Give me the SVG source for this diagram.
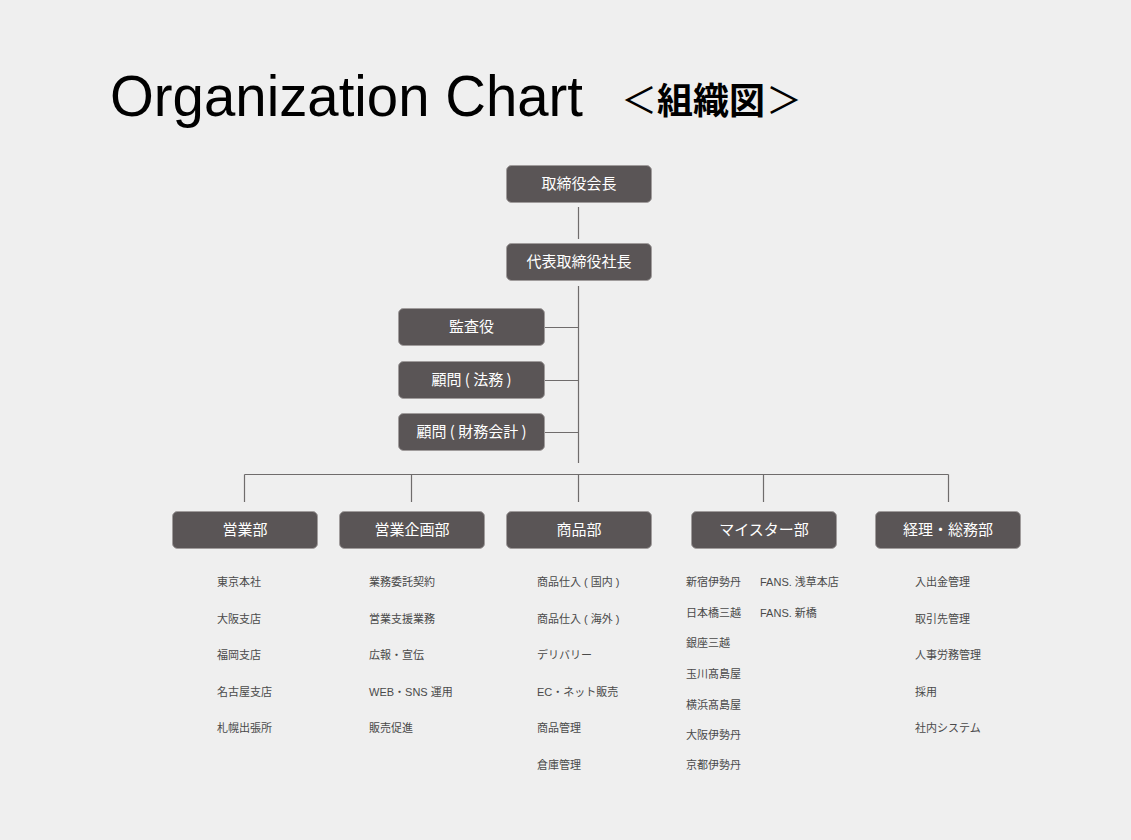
<svg xmlns="http://www.w3.org/2000/svg" width="1131" height="840" viewBox="0 0 1131 840">
<style>
.bg{fill:#efefef}
.box{fill:#5a5556;stroke:#a09c9c;stroke-width:1}
.bt{fill:#ffffff;font-family:"Noto Sans CJK JP","Liberation Sans",sans-serif;font-size:15px;text-anchor:middle}
.ln{stroke:#6f6c6c;stroke-width:1.2;fill:none}
.li{fill:#4a4a4a;font-family:"Liberation Sans","Noto Sans CJK JP",sans-serif;font-size:11px}
.tj{font-family:"Noto Sans CJK JP",sans-serif;font-size:36px;fill:#000}
</style>
<rect class="bg" x="0" y="0" width="1131" height="840"/>
<g id="title">
<text x="110" y="116" font-family="'Liberation Sans',Arial,sans-serif" font-size="57" textLength="473" lengthAdjust="spacingAndGlyphs" fill="#000">Organization Chart</text>
<text class="tj" x="621" y="114">＜</text>
<text class="tj" x="657" y="114" font-weight="bold">組織図</text>
<text class="tj" x="766" y="114">＞</text>
</g>
<g id="connectors">
<line class="ln" x1="578.5" y1="207" x2="578.5" y2="239"/>
<line class="ln" x1="578.5" y1="286" x2="578.5" y2="463"/>
<line class="ln" x1="544" y1="327.5" x2="578.5" y2="327.5"/>
<line class="ln" x1="544" y1="380.5" x2="578.5" y2="380.5"/>
<line class="ln" x1="544" y1="432.5" x2="578.5" y2="432.5"/>
<line class="ln" x1="244.5" y1="474.5" x2="948.5" y2="474.5"/>
<line class="ln" x1="244.5" y1="474.5" x2="244.5" y2="502"/>
<line class="ln" x1="411.5" y1="474.5" x2="411.5" y2="502"/>
<line class="ln" x1="578.5" y1="474.5" x2="578.5" y2="502"/>
<line class="ln" x1="763.5" y1="474.5" x2="763.5" y2="502"/>
<line class="ln" x1="948.5" y1="474.5" x2="948.5" y2="502"/>
</g>
<g id="chairman"><rect class="box" x="506.5" y="165.5" width="145" height="37" rx="5"/><text class="bt" x="579" y="189">取締役会長</text></g>
<g id="president"><rect class="box" x="506.5" y="243.5" width="145" height="37" rx="5"/><text class="bt" x="579" y="267">代表取締役社長</text></g>
<g id="auditor"><rect class="box" x="398.5" y="308.5" width="146" height="37" rx="5"/><text class="bt" x="471.5" y="332">監査役</text></g>
<g id="advisor-legal"><rect class="box" x="398.5" y="361.5" width="146" height="37" rx="5"/><text class="bt" x="471.5" y="385">顧問 ( 法務 )</text></g>
<g id="advisor-finance"><rect class="box" x="398.5" y="413.5" width="146" height="37" rx="5"/><text class="bt" x="471.5" y="437">顧問 ( 財務会計 )</text></g>
<g id="sales"><rect class="box" x="172.5" y="511.5" width="145" height="37" rx="5"/><text class="bt" x="245" y="535">営業部</text></g>
<g id="sales-planning"><rect class="box" x="339.5" y="511.5" width="145" height="37" rx="5"/><text class="bt" x="412" y="535">営業企画部</text></g>
<g id="products"><rect class="box" x="506.5" y="511.5" width="145" height="37" rx="5"/><text class="bt" x="579" y="535">商品部</text></g>
<g id="meister"><rect class="box" x="691.5" y="511.5" width="145" height="37" rx="5"/><text class="bt" x="764" y="535">マイスター部</text></g>
<g id="accounting"><rect class="box" x="875.5" y="511.5" width="145" height="37" rx="5"/><text class="bt" x="948" y="535">経理・総務部</text></g>
<g id="sales-list">
<text class="li" x="217" y="586">東京本社</text>
<text class="li" x="217" y="623">大阪支店</text>
<text class="li" x="217" y="659">福岡支店</text>
<text class="li" x="217" y="696">名古屋支店</text>
<text class="li" x="217" y="732">札幌出張所</text>
</g>
<g id="planning-list">
<text class="li" x="369" y="586">業務委託契約</text>
<text class="li" x="369" y="623">営業支援業務</text>
<text class="li" x="369" y="659">広報・宣伝</text>
<text class="li" x="369" y="696">WEB・SNS 運用</text>
<text class="li" x="369" y="732">販売促進</text>
</g>
<g id="products-list">
<text class="li" x="537" y="586">商品仕入 ( 国内 )</text>
<text class="li" x="537" y="623">商品仕入 ( 海外 )</text>
<text class="li" x="537" y="659">デリバリー</text>
<text class="li" x="537" y="696">EC・ネット販売</text>
<text class="li" x="537" y="732">商品管理</text>
<text class="li" x="537" y="769">倉庫管理</text>
</g>
<g id="meister-list">
<text class="li" x="686" y="586">新宿伊勢丹</text>
<text class="li" x="686" y="617">日本橋三越</text>
<text class="li" x="686" y="647">銀座三越</text>
<text class="li" x="686" y="678">玉川髙島屋</text>
<text class="li" x="686" y="709">横浜髙島屋</text>
<text class="li" x="686" y="739">大阪伊勢丹</text>
<text class="li" x="686" y="769">京都伊勢丹</text>
<text class="li" x="760" y="586">FANS. 浅草本店</text>
<text class="li" x="760" y="617">FANS. 新橋</text>
</g>
<g id="accounting-list">
<text class="li" x="915" y="586">入出金管理</text>
<text class="li" x="915" y="623">取引先管理</text>
<text class="li" x="915" y="659">人事労務管理</text>
<text class="li" x="915" y="696">採用</text>
<text class="li" x="915" y="732">社内システム</text>
</g>
</svg>
